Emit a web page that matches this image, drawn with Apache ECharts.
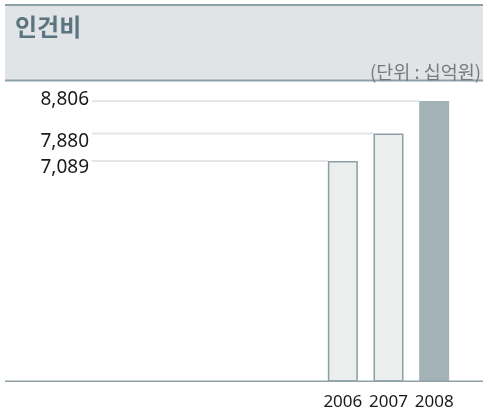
<!DOCTYPE html>
<html>
<head>
<meta charset="utf-8">
<style>
  html, body { margin: 0; padding: 0; background: #fff; }
  #chart { width: 483px; height: 412px; }
</style>
<script src="https://cdn.jsdelivr.net/npm/echarts@6/dist/echarts.min.js"></script>
</head>
<body>
<div id="chart"></div>
<script>
// 인건비 (단위: 십억원)
const years = ['2006', '2007', '2008'];
const laborCost = [7089, 7880, 8806];
const tickValues = [7089, 7880, 8806];

const chart = echarts.init(document.getElementById('chart'), null, { renderer: 'canvas' });

const NUM_FONT = 'Noto Sans';
const KR_FONT = 'Noto Sans CJK KR';
const RULE = '#8ca1a7';

// label text with a small downward nudge where two ticks sit close together
function tickLabel(v) {
  const txt = echarts.format.addCommas(v);
  if (v === 7880) return '{dn16|' + txt + '}';
  if (v === 7089) return '{dn14|' + txt + '}';
  return '{up2|' + txt + '}';
}

const tickText = { fontFamily: NUM_FONT, fontSize: 19, color: '#1a1a1a' };

chart.setOption({
  animation: false,
  backgroundColor: '#ffffff',
  grid: { left: 320, right: 26, top: 101, bottom: 31 },
  xAxis: {
    type: 'category',
    data: years,
    axisLine: { show: false },
    axisTick: { show: false },
    axisLabel: {
      interval: 0,
      hideOverlap: false,
      color: '#1a1a1a',
      fontFamily: NUM_FONT,
      fontSize: 17,
      margin: 13
    }
  },
  yAxis: {
    type: 'value',
    min: 800,
    max: 8806,
    splitLine: { show: false },
    axisLine: { show: false },
    axisTick: { show: false },
    axisLabel: {
      customValues: tickValues,
      margin: 231,
      color: '#1a1a1a',
      fontFamily: NUM_FONT,
      fontSize: 19,
      formatter: tickLabel,
      rich: {
        dn16: Object.assign({ padding: [16, 0, 0, 0] }, tickText),
        dn14: Object.assign({ padding: [14, 0, 0, 0] }, tickText),
        up2: Object.assign({ padding: [0, 0, 2, 0] }, tickText)
      }
    }
  },
  series: [
    {
      // leader lines running from each tick label to its bar
      type: 'custom',
      z: 1,
      silent: true,
      data: laborCost.map((v, i) => [i, v]),
      renderItem: function (params, api) {
        const p = api.coord([api.value(0), api.value(1)]);
        const x0 = params.coordSys.x - 228;
        const x1 = p[0] - 15;
        return {
          type: 'line',
          shape: { x1: x0, y1: p[1], x2: x1, y2: p[1] },
          style: { stroke: '#e3e7e7', lineWidth: 2 }
        };
      }
    },
    {
      type: 'bar',
      z: 2,
      barWidth: 30,
      data: laborCost.map((v, i) => {
        const last = i === laborCost.length - 1;
        return {
          value: v,
          itemStyle: last
            ? { color: '#a2b2b6', borderWidth: 0 }
            : { color: '#eceeee', borderColor: '#8aa0a5', borderWidth: 1.5 }
        };
      })
    }
  ],
  graphic: [
    { type: 'rect', z: 0, shape: { x: 5, y: 5, width: 478, height: 76 }, style: { fill: '#e0e4e6' } },
    { type: 'rect', z: 1, shape: { x: 5, y: 4, width: 478, height: 2 }, style: { fill: RULE } },
    { type: 'rect', z: 1, shape: { x: 5, y: 79.5, width: 478, height: 2 }, style: { fill: RULE } },
    {
      type: 'text', z: 2, x: 15, y: 27,
      style: {
        text: '인건비', fill: '#5a7480',
        fontFamily: KR_FONT, fontSize: 24, fontWeight: 'bold',
        verticalAlign: 'middle', align: 'left'
      }
    },
    {
      type: 'text', z: 2, x: 481, y: 72,
      style: {
        text: '(단위 : 십억원)', fill: '#7a7a7a',
        fontFamily: KR_FONT, fontSize: 18.5,
        verticalAlign: 'middle', align: 'right'
      }
    },
    // baseline across the full width
    { type: 'rect', z: 3, shape: { x: 5, y: 380.5, width: 478, height: 1.5 }, style: { fill: '#8fa2a7' } }
  ]
});
</script>
</body>
</html>
